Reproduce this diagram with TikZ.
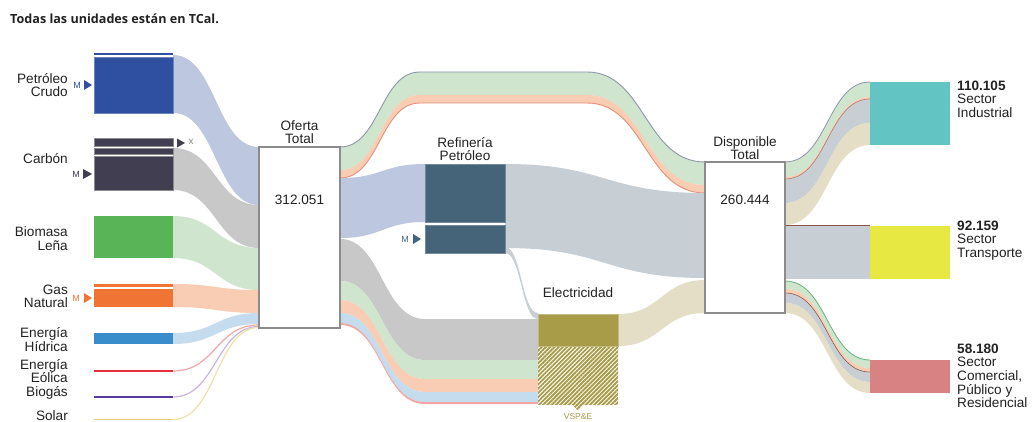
\documentclass[tikz,border=0pt]{standalone}
\usepackage{fontspec}
\setmainfont{Liberation Sans}
\newfontfamily\titlefont{Open Sans}
\usetikzlibrary{patterns.meta}
\definecolor{petbox}{HTML}{2F4FA0}
\definecolor{petf}{HTML}{BDC7DF}
\definecolor{carbox}{HTML}{403E50}
\definecolor{carf}{HTML}{C8C8C8}
\definecolor{biobox}{HTML}{58B456}
\definecolor{biof}{HTML}{CFE5CE}
\definecolor{gasbox}{HTML}{F07433}
\definecolor{gasf}{HTML}{F9CDB3}
\definecolor{hidbox}{HTML}{3A8DCB}
\definecolor{hidf}{HTML}{C5DCEE}
\definecolor{eolbox}{HTML}{E8303C}
\definecolor{eolf}{HTML}{F2A6A6}
\definecolor{bgbox}{HTML}{5A3A9E}
\definecolor{bgf}{HTML}{C9B4E2}
\definecolor{solbox}{HTML}{E2CE74}
\definecolor{solf}{HTML}{EEE2A8}
\definecolor{refbox}{HTML}{456379}
\definecolor{reff}{HTML}{C7CFD5}
\definecolor{elbox}{HTML}{A89C48}
\definecolor{elf}{HTML}{E3DEC5}
\definecolor{indbox}{HTML}{62C5C3}
\definecolor{trabox}{HTML}{E8E842}
\definecolor{combox}{HTML}{D98283}
\definecolor{frame}{HTML}{8C8C8C}
\definecolor{edgeblue}{HTML}{8E95AE}
\definecolor{edgeorange}{HTML}{E8907A}
\definecolor{txt}{HTML}{222222}
\newcommand{\sband}[7]{\fill[#7] (#1,#2) .. controls ({(#1+#4)/2},#2) and ({(#1+#4)/2},#5) .. (#4,#5) -- (#4,#6) .. controls ({(#1+#4)/2},#6) and ({(#1+#4)/2},#3) .. (#1,#3) -- cycle;}
\newcommand{\sline}[5]{\draw[#5] (#1,#2) .. controls ({(#1+#3)/2},#2) and ({(#1+#3)/2},#4) .. (#3,#4);}
\newcommand{\eband}[5]{\fill[#5] (340,#1) .. controls (382,#1) and (382,#3) .. (425,#3) -- (538,#3) -- (538,#4) -- (425,#4) .. controls (382,#4) and (382,#2) .. (340,#2) -- cycle;}
\newcommand{\topband}[7]{\fill[#7] (340,#1) .. controls (380,#1) and (380,#2) .. (420,#2) -- (587,#2) .. controls (645,#2) and (645,#3) .. (705,#3) -- (705,#6) .. controls (645,#6) and (645,#5) .. (587,#5) -- (420,#5) .. controls (380,#5) and (380,#4) .. (340,#4) -- cycle;}
\tikzset{
  lbl/.style={font=\fontsize{13.6}{13.6}\selectfont, text=txt, inner sep=0pt},
  mk/.style={font=\fontsize{9}{10}\selectfont, inner sep=0pt},
  hub/.style={fill=white, draw=frame, line width=2pt},
  hatch/.style={pattern={Lines[angle=45,distance=3pt,line width=1.9pt]}, pattern color=elbox},
}
\begin{document}
\begin{tikzpicture}[x=1pt,y=-1pt]
\useasboundingbox (0,0) rectangle (1032,422);
\fill[white] (0,0) rectangle (1032,422);
\node[anchor=west, inner sep=0pt, font=\titlefont\bfseries\fontsize{12.6}{13}\selectfont, text=txt] (title) at (10,18.5) {Todas las unidades están en TCal.};

% ---- left flows into Oferta Total
\sband{173}{55}{113}{259}{147}{205}{petf}
\sband{173}{148}{190}{259}{205}{248}{carf}
\sband{173}{216}{258}{259}{248}{290}{biof}
\sband{173}{284}{307}{259}{290}{313}{gasf}
\sband{173}{333}{344}{259}{313}{324}{hidf}
\sline{173}{371}{259}{325}{eolf, line width=1.2pt}
\sline{173}{397}{259}{326.5}{bgf, line width=1.2pt}
\sline{173}{419.5}{259}{327.5}{solf, line width=1.2pt}

% ---- top band Oferta -> Disponible
\topband{147}{72}{162}{170}{95}{185}{biof}
\topband{170}{95}{185}{178}{103}{193}{gasf}
\draw[edgeblue, line width=0.9pt] (340,147) .. controls (380,147) and (380,72) .. (420,72) -- (587,72) .. controls (645,72) and (645,162) .. (705,162);
\draw[edgeorange, line width=0.9pt] (340,178) .. controls (380,178) and (380,103) .. (420,103) -- (587,103) .. controls (645,103) and (645,193) .. (705,193);

% ---- Oferta -> Refineria
\sband{340}{178}{238}{425}{164}{222}{petf}

% ---- Oferta -> Electricidad
\eband{239}{281}{319}{360}{carf}
\eband{281}{300}{360}{379}{biof}
\eband{300}{313}{379}{392}{gasf}
\eband{313}{323}{392}{402}{hidf}
\eband{323}{325}{402}{404}{eolf}

% ---- Refineria -> Disponible / Electricidad
\sband{505}{164}{248}{705}{193}{278}{reff}
\sband{505}{247}{253}{538}{313}{319}{reff}
% ---- Electricidad -> Disponible
\sband{618}{314}{346}{705}{280}{313}{elf}

% ---- Disponible -> sectors
\sband{785}{162}{177}{870}{82}{97}{biof}
\sband{785}{177}{179}{870}{97}{99}{gasf}
\sband{785}{179}{203}{870}{99}{123}{reff}
\sband{785}{203}{225}{870}{123}{145}{elf}
\sline{785}{162}{870}{82}{edgeblue, line width=0.8pt}
\sline{785}{179}{870}{99}{edgeorange!80!black, line width=0.6pt}
\fill[reff] (785,226) rectangle (870,279);
\draw[edgeorange!60!black, line width=0.8pt] (785,225.8) -- (870,225.8);
\sband{785}{281}{289}{870}{360}{368}{biof}
\sband{785}{289}{293}{870}{368}{372}{gasf}
\sband{785}{293}{303}{870}{372}{382}{reff}
\sband{785}{303}{313}{870}{382}{393}{elf}
\sline{785}{281}{870}{360}{edgeblue!70!green, line width=0.8pt}
\sline{785}{293}{870}{372}{edgeorange!60!black, line width=0.6pt}

% ---- source boxes
\fill[petbox] (94,53) rectangle (173,55.5);
\fill[petbox, draw=petbox!70!white, line width=0.5pt] (94,57) rectangle (173,113);
\fill[carbox, draw=frame, line width=0.6pt] (94,138) rectangle (173,146);
\fill[carbox, draw=frame, line width=0.6pt] (94,148) rectangle (173,154);
\fill[carbox, draw=frame, line width=0.6pt] (94,156) rectangle (173,190);
\fill[biobox] (94,216) rectangle (173,258);
\fill[gasbox] (94,284) rectangle (173,287);
\fill[gasbox] (94,289) rectangle (173,307);
\fill[hidbox] (94,333) rectangle (173,344);
\draw[eolbox, line width=2.5pt] (94,371) -- (173,371);
\draw[bgbox, line width=2.5pt] (94,397) -- (173,397);
\draw[solbox, line width=1.5pt] (94,419.5) -- (173,419.5);

% ---- markers
\node[mk, text=petbox] (mpet) at (77,85) {M};
\fill[petbox] (84,80) -- (84,90) -- (92,85) -- cycle;
\node[mk, text=carbox] (mcar) at (76,174) {M};
\fill[carbox] (83,169) -- (83,179) -- (92,174) -- cycle;
\fill[carbox] (177,138.5) -- (177,147.5) -- (185,143) -- cycle;
\node[mk, text=frame, font=\fontsize{10}{10}\selectfont] (xcar) at (191,142) {x};
\node[mk, text=gasbox] (mgas) at (76,298) {M};
\fill[gasbox] (84,293) -- (84,303) -- (92,298) -- cycle;
\node[mk, text=refbox] (mref) at (405,239) {M};
\fill[refbox] (413,234) -- (413,244) -- (421,239) -- cycle;

% ---- source labels
\node[lbl, anchor=east, align=right] (lpet) at (68,85) {Petróleo\\Crudo};
\node[lbl, anchor=east, align=right] (lcar) at (68,159) {Carbón};
\node[lbl, anchor=east, align=right] (lbio) at (68,238.5) {Biomasa\\Leña};
\node[lbl, anchor=east, align=right] (lgas) at (68,296.5) {Gas\\Natural};
\node[lbl, anchor=east, align=right] (lhid) at (68,339.5) {Energía\\Hídrica};
\node[lbl, anchor=east, align=right] (leol) at (68,371) {Energía\\Eólica};
\node[lbl, anchor=east, align=right] (lbg) at (68,393) {Biogás};
\node[lbl, anchor=east, align=right] (lsol) at (68,415.5) {Solar};

% ---- hubs
\draw[hub] (259,147) rectangle (340,328);
\node[lbl, align=center] (lof) at (299.5,132) {Oferta\\Total};
\node[lbl] (vof) at (299.5,200) {312.051};
\draw[hub] (705,162) rectangle (785,313);
\node[lbl, align=center] (ldis) at (745,148) {Disponible\\Total};
\node[lbl] (vdis) at (745,200) {260.444};

% ---- refinery
\fill[refbox, draw=refbox!75!white, line width=0.8pt] (425,164) rectangle (505,222);
\fill[refbox, draw=refbox!75!white, line width=0.8pt] (425,225) rectangle (505,253);
\node[lbl, align=center] (lref) at (465,149) {Refinería\\Petróleo};

% ---- electricity
\fill[elbox, draw=elbox!70!white, line width=0.6pt] (538,314) rectangle (618,346);
\fill[white] (538,347.5) rectangle (618,404);
\fill[hatch] (538,347.5) rectangle (618,404);
\fill[hatch] (572,404) -- (584,404) -- (578,411) -- cycle;
\node[lbl] (lel) at (578,293) {Electricidad};
\node[mk, text=elbox, font=\fontsize{8.5}{9}\selectfont] (lvsp) at (578,416.5) {VSP\&E};

% ---- sectors
\fill[indbox] (870,82) rectangle (950,145);
\fill[trabox] (870,226) rectangle (950,279);
\fill[combox] (870,360) rectangle (950,393);
\node[lbl, anchor=north west, align=left] (lind) at (957,80.5) {\textbf{110.105}\\Sector\\Industrial};
\node[lbl, anchor=north west, align=left] (ltra) at (957,220.5) {\textbf{92.159}\\Sector\\Transporte};
\node[lbl, anchor=north west, align=left] (lcom) at (957,343.5) {\textbf{58.180}\\Sector\\Comercial,\\Público y\\Residencial};
\end{tikzpicture}
\end{document}
